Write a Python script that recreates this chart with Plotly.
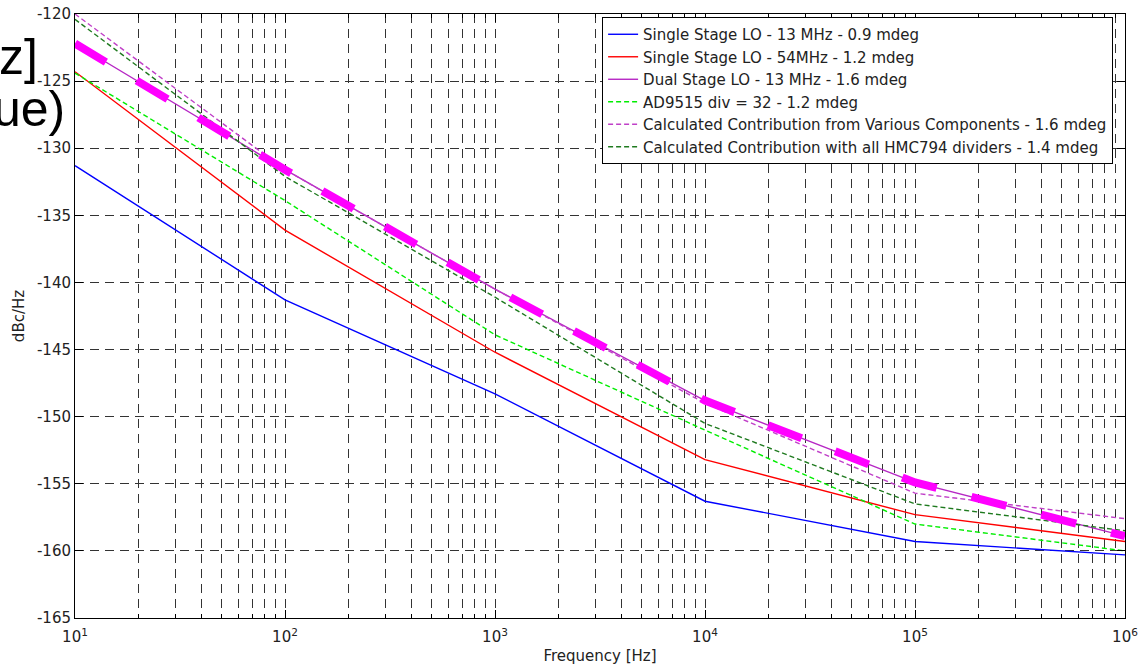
import plotly.graph_objects as go

# ---- data ----
freq_hz = [10, 100, 1000, 10000, 100000, 1000000]

single_13mhz = [-131.3, -141.3, -148.3, -156.3, -159.3, -160.3]
single_54mhz = [-124.3, -136.1, -145.2, -153.2, -157.3, -159.3]
dual_13mhz = [-122.2, -131.6, -140.5, -148.8, -154.9, -158.9]
ad9515_div32 = [-124.4, -133.9, -143.9, -151.0, -158.0, -160.0]
calc_various = [-120.0, -131.6, -140.5, -149.0, -155.7, -157.6]
calc_hmc794 = [-120.4, -132.1, -141.1, -150.5, -156.5, -158.5]

series_names = [
    "Single Stage LO - 13 MHz - 0.9 mdeg",
    "Single Stage LO - 54MHz - 1.2 mdeg",
    "Dual Stage LO - 13 MHz - 1.6 mdeg",
    "AD9515 div = 32 - 1.2 mdeg",
    "Calculated Contribution from Various Components - 1.6 mdeg",
    "Calculated Contribution with all HMC794 dividers - 1.4 mdeg",
]

x_tick_vals = [10, 100, 1000, 10000, 100000, 1000000]
x_tick_text = ["10<sup>1</sup>", "10<sup>2</sup>", "10<sup>3</sup>",
               "10<sup>4</sup>", "10<sup>5</sup>", "10<sup>6</sup>"]
y_tick_vals = [-165, -160, -155, -150, -145, -140, -135, -130, -125, -120]
y_tick_text = [str(v) for v in y_tick_vals]

FONT = "DejaVu Sans, Liberation Sans, Arial, sans-serif"
BIGFONT = "Liberation Sans, Arial, Helvetica, sans-serif"
TXT = "#222"

styles = [
    dict(color="#0000ff", width=1.4, dash="solid"),
    dict(color="#ff0000", width=1.4, dash="solid"),
    dict(color="#b627c4", width=1.4, dash="solid"),
    dict(color="#00ee00", width=1.4, dash="5px,3px"),
    dict(color="#c040c8", width=1.4, dash="5px,3px"),
    dict(color="#1f7a1f", width=1.4, dash="5px,3px"),
]
values = [single_13mhz, single_54mhz, dual_13mhz, ad9515_div32, calc_various, calc_hmc794]

fig = go.Figure()
for name, ys, st in zip(series_names, values, styles):
    fig.add_trace(go.Scatter(x=freq_hz, y=ys, mode="lines", name=name, line=st))

# thick magenta dashed overlay tracing the dual stage curve (not in legend)
fig.add_trace(go.Scatter(x=freq_hz, y=dual_13mhz, mode="lines", showlegend=False,
                         hoverinfo="skip",
                         line=dict(color="#ff00ff", width=8, dash="36px,36px")))

grid_col = "#333333"
fig.update_xaxes(
    type="log", range=[1, 6],
    tickmode="array", tickvals=x_tick_vals, ticktext=x_tick_text,
    ticks="inside", ticklen=8, tickcolor="#000",
    showline=True, linecolor="#000", linewidth=1, mirror="ticks",
    showgrid=True, gridcolor=grid_col, gridwidth=1, griddash="9px,6px",
    minor=dict(dtick="D1", ticks="inside", ticklen=4, tickcolor="#000",
               showgrid=True, gridcolor=grid_col, gridwidth=1, griddash="9px,6px"),
    tickfont=dict(family=FONT, size=15, color=TXT),
    ticklabelstandoff=5,
    title=dict(text="Frequency [Hz]", font=dict(family=FONT, size=15, color=TXT), standoff=5),
    zeroline=False, automargin=False,
)
fig.update_yaxes(
    range=[-165, -120], tickmode="array", tickvals=y_tick_vals, ticktext=y_tick_text,
    ticks="inside", ticklen=8, tickcolor="#000",
    showline=True, linecolor="#000", linewidth=1, mirror="ticks",
    showgrid=True, gridcolor=grid_col, gridwidth=1, griddash="9px,6px",
    tickfont=dict(family=FONT, size=15, color=TXT),
    title=dict(text="dBc/Hz", font=dict(family=FONT, size=15, color=TXT), standoff=8),
    zeroline=False, automargin=False,
)

# partially visible slide text at the top-left
fig.add_annotation(text="z]", xref="paper", yref="paper", x=-0.0333, y=0.929,
                   xanchor="right", yanchor="middle", showarrow=False,
                   font=dict(family=BIGFONT, size=50, color="#000"))
fig.add_annotation(text="ue)", xref="paper", yref="paper", x=-0.0076, y=0.842,
                   xanchor="right", yanchor="middle", showarrow=False,
                   font=dict(family=BIGFONT, size=50, color="#000"))

fig.update_layout(
    width=1147, height=666,
    margin=dict(l=75, r=22, t=14, b=48),
    paper_bgcolor="#fff", plot_bgcolor="#fff",
    font=dict(family=FONT, size=15, color=TXT),
    legend=dict(x=0.502, y=0.995, xanchor="left", yanchor="top",
                bgcolor="#fff", bordercolor="#000", borderwidth=1,
                font=dict(family=FONT, size=15, color=TXT),
                tracegroupgap=0, itemwidth=30),
    showlegend=True,
)

fig.write_html("out.html")
